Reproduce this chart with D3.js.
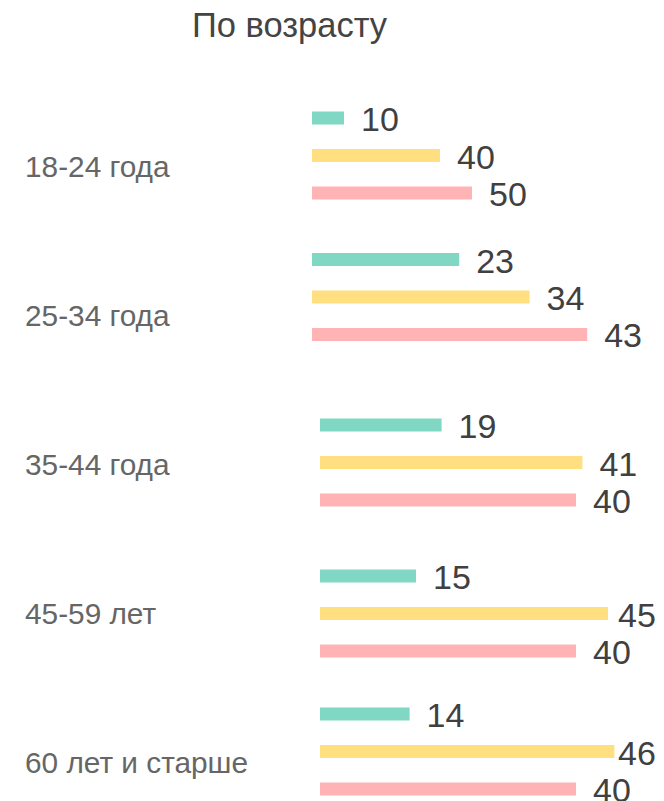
<!DOCTYPE html>
<html><head><meta charset="utf-8">
<script src="https://cdn.jsdelivr.net/npm/d3@7"></script>
<style>html,body{margin:0;padding:0;background:#fff;}svg{display:block;}</style>
</head><body><div id="chart"></div>
<script>
const title = "По возрасту";
const categories = ["18-24 года", "25-34 года", "35-44 года", "45-59 лет", "60 лет и старше"];
const seriesA = [10, 23, 19, 15, 14];   // teal
const seriesB = [40, 34, 41, 45, 46];   // yellow
const seriesC = [50, 43, 40, 40, 40];   // pink
const colors = ["#80d8c4", "#ffdf80", "#ffb3b4"];

// layout (not data): each group's bars are drawn like their own small chart
const groupCenterY = [155.5, 297, 462.5, 613.5, 751.5];
const groupX0 = [312, 312, 320, 320, 320];
const groupDomainMax = [100, 50, 50, 50, 50];
const barSpan = 320;

const W = 664, H = 801;
const svg = d3.select("#chart").append("svg").attr("width", W).attr("height", H);
const font = "'Liberation Sans', Arial, sans-serif";

svg.append("text").attr("x", 289.5).attr("y", 37).attr("text-anchor", "middle")
  .attr("font-family", font).attr("font-size", 34.5).attr("fill", "#444").text(title);

// category labels sit on an evenly spaced axis
const yLabel = d3.scalePoint().domain(categories).range([177, 772.7]);
svg.append("g").selectAll("text").data(categories).join("text")
  .attr("x", 25).attr("y", d => yLabel(d))
  .attr("font-family", font).attr("font-size", 29.8).attr("fill", "#666").text(d => d);

const series = [seriesA, seriesB, seriesC];
const inner = d3.scaleBand().domain([0, 1, 2]).range([-44, 44]).paddingInner(0.6533).paddingOuter(0);

categories.forEach((cat, gi) => {
  const x = d3.scaleLinear().domain([0, groupDomainMax[gi]]).range([groupX0[gi], groupX0[gi] + barSpan]);
  const g = svg.append("g").attr("transform", `translate(0,${groupCenterY[gi]})`);
  series.forEach((s, si) => {
    const v = s[gi];
    const y0 = inner(si);
    const bh = inner.bandwidth();
    g.append("rect").attr("x", x(0)).attr("y", y0).attr("width", x(v) - x(0)).attr("height", bh)
      .attr("fill", colors[si]);
    g.append("text").attr("x", Math.min(x(v) + 17, 618)).attr("y", y0 + bh / 2 + 13)
      .attr("font-family", font).attr("font-size", 34).attr("fill", "#404040").text(v);
  });
});
</script></body></html>
